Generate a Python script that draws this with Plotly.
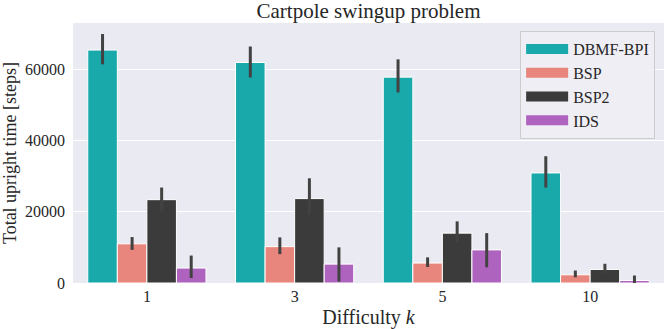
import plotly.graph_objects as go

categories = ["1", "3", "5", "10"]
series_names = ["DBMF-BPI", "BSP", "BSP2", "IDS"]
colors = ["#19A9AB", "#E8857D", "#3B3B3B", "#AE64BF"]

dbmf = [65400, 61900, 57800, 30900]
dbmf_lo = [61400, 57700, 53500, 26800]
dbmf_hi = [69900, 66400, 62800, 35600]

bsp = [11000, 10200, 5600, 2300]
bsp_lo = [9300, 8100, 4500, 1600]
bsp_hi = [12900, 12800, 7200, 3500]

bsp2 = [23400, 23700, 14000, 3800]
bsp2_lo = [20100, 19200, 11400, 2800]
bsp2_hi = [26800, 29400, 17300, 5400]

ids = [4200, 5300, 9300, 700]
ids_lo = [1400, 400, 4400, 0]
ids_hi = [7700, 10000, 14000, 2100]

values = [dbmf, bsp, bsp2, ids]
lows = [dbmf_lo, bsp_lo, bsp2_lo, ids_lo]
highs = [dbmf_hi, bsp_hi, bsp2_hi, ids_hi]

y_ticks = [0, 20000, 40000, 60000]

FONT = "Liberation Serif"
TXT = "#262626"

fig = go.Figure()
for name, col, v, lo, hi in zip(series_names, colors, values, lows, highs):
    fig.add_trace(go.Bar(
        name=name,
        x=categories,
        y=v,
        legendgroup=name,
        showlegend=False,
        marker=dict(color=col, line=dict(color="white", width=1)),
        error_y=dict(
            type="data",
            symmetric=False,
            array=[h - m for h, m in zip(hi, v)],
            arrayminus=[m - l for m, l in zip(v, lo)],
            color="#424242",
            thickness=3,
            width=0,
        ),
    ))
# legend entries drawn as wide swatches (no data plotted)
for name, col in zip(series_names, colors):
    fig.add_trace(go.Scatter(
        name=name,
        x=[None], y=[None],
        mode="lines",
        legendgroup=name,
        line=dict(color=col, width=10),
        hoverinfo="skip",
    ))

fig.update_layout(
    width=664,
    height=329,
    margin=dict(l=73, r=0, t=23, b=46, autoexpand=False),
    paper_bgcolor="white",
    plot_bgcolor="#EAEAF2",
    barmode="group",
    bargap=0.2,
    bargroupgap=0,
    font=dict(family=FONT, size=16, color=TXT),
    title=dict(
        text="Cartpole swingup problem",
        x=0.5, xref="paper", xanchor="center",
        y=1 - 11 / 329, yref="container", yanchor="middle",
        font=dict(family=FONT, size=21, color=TXT),
    ),
    legend=dict(
        x=0.985, y=0.969, xanchor="right", yanchor="top",
        bgcolor="rgba(238,238,244,0.9)",
        bordercolor="#CCCCCC",
        borderwidth=1,
        font=dict(family=FONT, size=16, color=TXT),
        tracegroupgap=0,
        itemwidth=42,
    ),
    showlegend=True,
)

fig.update_xaxes(
    type="category",
    range=[-0.5, 3.5],
    showgrid=False,
    ticks="",
    automargin=False,
    ticklabelstandoff=2,
    tickfont=dict(family=FONT, size=16, color=TXT),
    title=dict(text="Difficulty <i>k</i>", font=dict(family=FONT, size=20, color=TXT), standoff=5),
)
fig.update_yaxes(
    range=[0, 73000],
    tickvals=y_ticks,
    ticktext=[str(t) for t in y_ticks],
    showgrid=True,
    gridcolor="white",
    gridwidth=1,
    zeroline=False,
    ticks="",
    automargin=False,
    ticklabelstandoff=7,
    tickfont=dict(family=FONT, size=16, color=TXT),
    title=dict(text="Total upright time [steps]", font=dict(family=FONT, size=18, color=TXT), standoff=4),
)

fig.write_html("out.html", config={"displayModeBar": False},
               post_script="document.body.style.margin='0';")
